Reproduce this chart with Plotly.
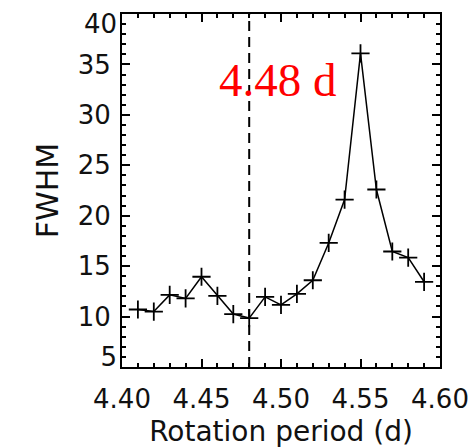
import plotly.graph_objects as go

period = [4.41, 4.42, 4.43, 4.44, 4.45, 4.46, 4.47, 4.48, 4.49, 4.50,
          4.51, 4.52, 4.53, 4.54, 4.55, 4.56, 4.57, 4.58, 4.59]
fwhm = [10.7, 10.5, 12.15, 11.8, 13.95, 12.05, 10.25, 9.85, 11.95, 11.15,
        12.25, 13.6, 17.3, 21.6, 36.1, 22.6, 16.45, 15.85, 13.45]
best_period = 4.48
label_text = "4.48 d"
x_ticks = [4.40, 4.45, 4.50, 4.55, 4.60]
x_ticktext = ["4.40", "4.45", "4.50", "4.55", "4.60"]
y_ticks = [5, 10, 15, 20, 25, 30, 35, 40]
y_ticktext = ["", "10", "15", "20", "25", "30", "35", ""]
y_top_tick = [40]
y_bottom_tick = [5]
x_range = [4.40, 4.60]
y_range = [5, 40]
# edge labels sit one unit inside the frame, as in the original
y_range_top_label = [6, 41]
y_range_bottom_label = [4, 39]

tickfont = dict(family="DejaVu Sans", size=26, color="#111")

fig = go.Figure()
fig.add_trace(go.Scatter(
    x=period, y=fwhm, mode="lines+markers",
    line=dict(color="black", width=1.5),
    marker=dict(symbol="cross-thin", size=13, line=dict(color="black", width=1.8)),
    showlegend=False,
))
fig.add_trace(go.Scatter(
    x=[best_period, best_period], y=y_range, mode="lines",
    line=dict(color="black", width=2, dash="10px,6px"), showlegend=False,
))
fig.add_trace(go.Scatter(x=x_range, y=y_range_top_label, yaxis="y2", mode="markers",
                         marker=dict(opacity=0), showlegend=False, hoverinfo="skip"))
fig.add_trace(go.Scatter(x=x_range, y=y_range_bottom_label, yaxis="y3", mode="markers",
                         marker=dict(opacity=0), showlegend=False, hoverinfo="skip"))

fig.add_annotation(x=best_period, y=30.7, xref="x", yref="y", text=label_text,
                   showarrow=False, xanchor="left", yanchor="bottom", xshift=-32,
                   font=dict(family="Liberation Serif", size=47, color="red"))

fig.update_layout(
    width=475, height=448,
    margin=dict(l=122, r=35, t=14, b=81, autoexpand=False),
    paper_bgcolor="white", plot_bgcolor="white",
    xaxis=dict(
        range=x_range, tickvals=x_ticks, ticktext=x_ticktext, automargin=False,
        ticks="inside", ticklen=8, tickwidth=1.5, tickcolor="black",
        minor=dict(dtick=0.01, tick0=4.40, ticks="inside", ticklen=4, tickwidth=1.5, tickcolor="black"),
        showline=True, linecolor="black", linewidth=2, mirror="ticks",
        showgrid=False, zeroline=False, tickfont=tickfont, ticklabelstandoff=8,
        title=dict(text="Rotation period (d)", font=dict(family="DejaVu Sans", size=28, color="#111"), standoff=12),
    ),
    yaxis=dict(
        range=y_range, showgrid=False, zeroline=False, automargin=False,
        tickvals=y_ticks, ticktext=y_ticktext,
        ticks="inside", ticklen=8, tickwidth=1.5, tickcolor="black",
        minor=dict(dtick=1, tick0=5, ticks="inside", ticklen=4, tickwidth=1.5, tickcolor="black"),
        showline=True, linecolor="black", linewidth=2, mirror="ticks",
        tickfont=tickfont, ticklabelstandoff=4,
        title=dict(text="FWHM", font=dict(family="DejaVu Sans", size=30, color="#111"), standoff=10),
    ),
    yaxis2=dict(range=y_range_top_label, overlaying="y", side="left", tickvals=y_top_tick,
                ticks="", showgrid=False, zeroline=False, showline=False, automargin=False,
                tickfont=tickfont, ticklabelstandoff=4),
    yaxis3=dict(range=y_range_bottom_label, overlaying="y", side="left", tickvals=y_bottom_tick,
                ticks="", showgrid=False, zeroline=False, showline=False, automargin=False,
                tickfont=tickfont, ticklabelstandoff=4),
)

fig.write_html("out.html")
